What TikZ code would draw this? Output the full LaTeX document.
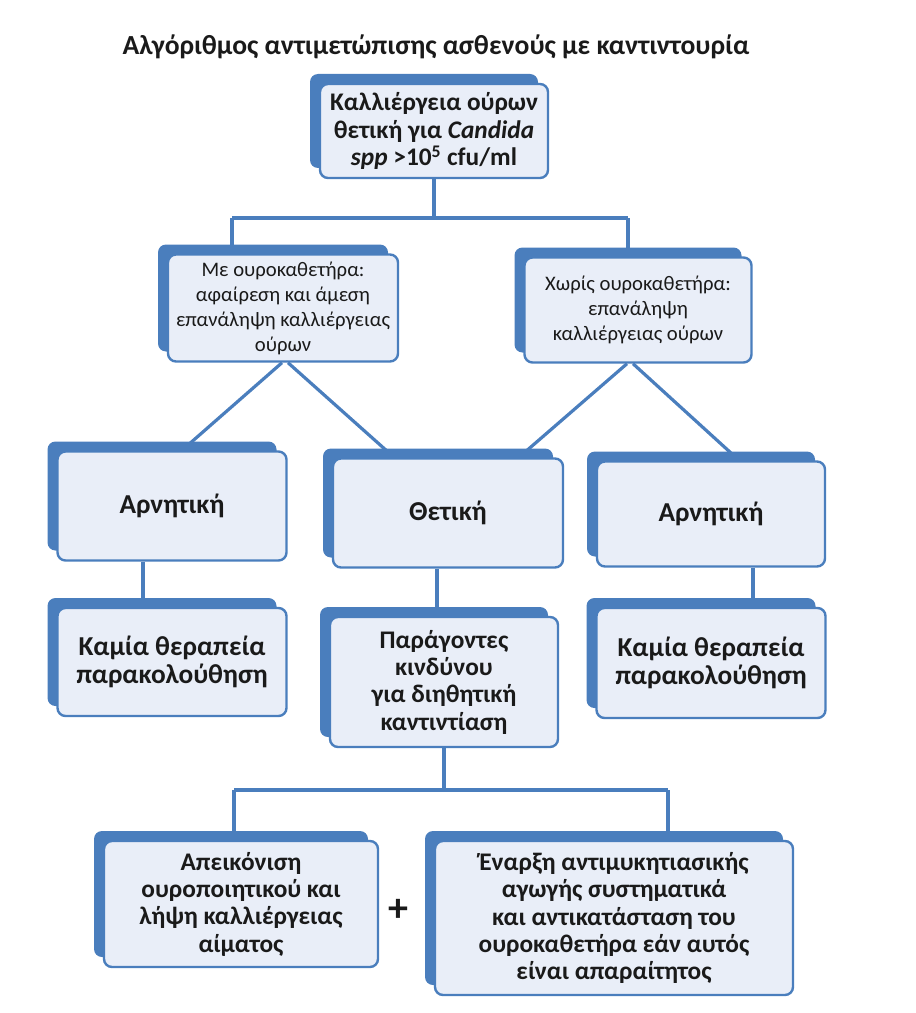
\documentclass[tikz,border=0pt]{standalone}
\usepackage{fontspec}
\setmainfont{Carlito}
\usetikzlibrary{shadows,backgrounds,calc}

\definecolor{cardblue}{RGB}{74,126,189}
\definecolor{cardfill}{RGB}{233,238,248}
\definecolor{cardtext}{RGB}{26,26,26}

\tikzset{
  card/.style={draw=cardblue, fill=cardfill, line width=1.8pt, rounded corners=6pt,
    align=center, text=cardtext, inner sep=2pt,
    font=\bfseries\fontsize{19}{20.5}\selectfont,
    general shadow={fill=cardblue, shadow xshift=-7.5pt, shadow yshift=7.5pt}},
  plaincard/.style={card, font=\fontsize{15.5}{18.75}\selectfont},
  bigcard/.style={card, font=\bfseries\fontsize{20.5}{21}\selectfont},
  sz/.style 2 args={minimum width=#1*0.75pt, minimum height=#2*0.75pt},
  link/.style={draw=cardblue, line width=2.4pt},
}

\begin{document}
\begin{tikzpicture}[x=0.75pt, y=-0.75pt]
  \useasboundingbox (0,0) rectangle (916,1013);

  % Title
  \node[text=cardtext, font=\bfseries\fontsize{20.7}{24}\selectfont] (title) at (436,47)
    {Αλγόριθμος αντιμετώπισης ασθενούς με καντιντουρία};

  % First two levels
  \node[card, sz={228}{94}] (culture) at (434,131)
    {Καλλιέργεια ούρων\\θετική για \textit{Candida}\\\textit{spp} >10\textsuperscript{5} cfu/ml};
  \node[plaincard, sz={230}{107}] (withcath) at (283,308)
    {Με ουροκαθετήρα:\\αφαίρεση και άμεση\\επανάληψη καλλιέργειας\\ούρων};
  \node[plaincard, sz={227}{105}] (nocath) at (638,310)
    {Χωρίς ουροκαθετήρα:\\επανάληψη\\καλλιέργειας ούρων};

  % Results
  \node[bigcard, sz={229}{109}] (negL) at (172,506) {Αρνητική};
  \node[bigcard, sz={230}{109}] (posM) at (448,513) {Θετική};
  \node[bigcard, sz={228}{105}] (negR) at (711,514) {Αρνητική};

  % Next step
  \node[bigcard, sz={229}{108}] (notxL) at (172,662) {Καμία θεραπεία\\παρακολούθηση};
  \node[card, sz={228}{130}] (risk) at (444,682)
    {Παράγοντες\\κινδύνου\\για διηθητική\\καντιντίαση};
  \node[bigcard, sz={229}{110}] (notxR) at (711,663) {Καμία θεραπεία\\παρακολούθηση};

  % Actions
  \node[card, sz={274}{126}] (imaging) at (241,904)
    {Απεικόνιση\\ουροποιητικού και\\λήψη καλλιέργειας\\αίματος};
  \node[text=cardtext, font=\bfseries\fontsize{30}{30}\selectfont] (plus) at (398,910) {+};
  \node[card, sz={358}{154}] (therapy) at (614,918)
    {Έναρξη αντιμυκητιασικής\\αγωγής συστηματικά\\και αντικατάσταση του\\ουροκαθετήρα εάν αυτός\\είναι απαραίτητος};

  % Connectors
  \coordinate (busAL) at (232,218);
  \coordinate (busAR) at (628,218);
  \coordinate (busBL) at (234,790);
  \coordinate (busBR) at (668,790);
  \begin{scope}[on background layer]
    \draw[link] (culture.south) -- (culture.south |- busAL);
    \draw[link] (busAL) -- (busAR);
    \draw[link] (busAL) -- (busAL |- withcath.north);
    \draw[link] (busAR) -- (busAR |- nocath.north);

    \draw[link] ($(withcath.south)+(-1,0)$) -- ($(negL.north)+(10,0)$);
    \draw[link] ($(withcath.south)+(5,0)$) -- ($(posM.north)+(-54,0)$);
    \draw[link] ($(nocath.south)+(-11,0)$) -- ($(posM.north)+(71,0)$);
    \draw[link] ($(nocath.south)+(-5,0)$) -- ($(negR.north)+(28,0)$);

    \draw[link] ($(negL.south)+(-29,0)$) -- ($(notxL.north)+(-29,0)$);
    \draw[link] ($(posM.south)+(-11,0)$) -- ($(risk.north)+(-7,0)$);
    \draw[link] ($(negR.south)+(42,0)$) -- ($(notxR.north)+(42,0)$);

    \draw[link] (risk.south) -- (risk.south |- busBL);
    \draw[link] (busBL) -- (busBR);
    \draw[link] (busBL) -- (busBL |- imaging.north);
    \draw[link] (busBR) -- (busBR |- therapy.north);
  \end{scope}
\end{tikzpicture}
\end{document}
